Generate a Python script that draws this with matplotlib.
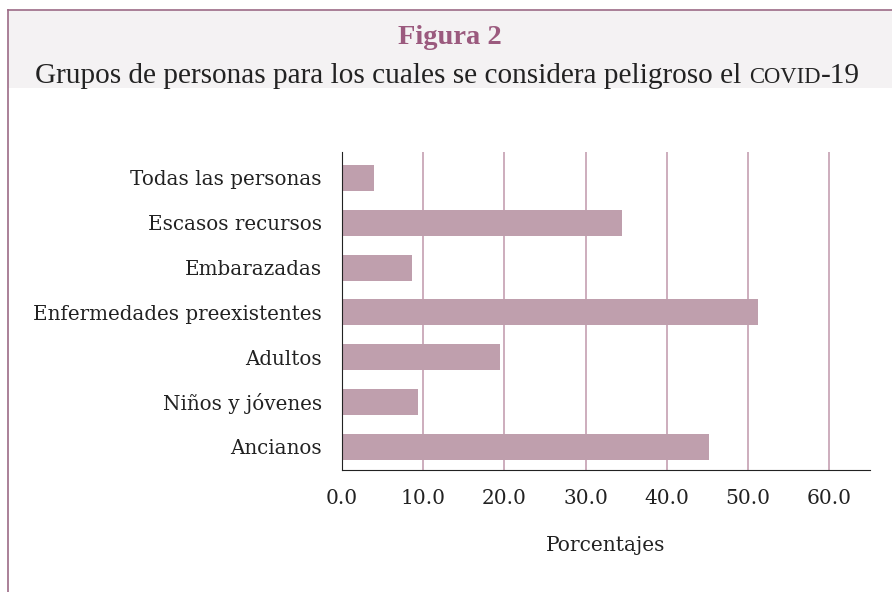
import matplotlib.pyplot as plt
from matplotlib.patches import Rectangle
from matplotlib.lines import Line2D

grupos = ["Ancianos", "Niños y jóvenes", "Adultos", "Enfermedades preexistentes",
          "Embarazadas", "Escasos recursos", "Todas las personas"]
porcentajes = [45.2, 9.4, 19.4, 51.2, 8.6, 34.5, 4.0]
ticks = [0, 10, 20, 30, 40, 50, 60]

BAR = "#bf9fad"
GRID = "#c9a7b8"
TITLE = "#9b5a7e"
HEAD_FONT = "Liberation Serif"
FONT = "DejaVu Serif"

fig = plt.figure(figsize=(8.92, 5.92), dpi=100)

# header band and frame
fig.patches.append(Rectangle((8 / 892, 1 - 88 / 592), 1, 78 / 592, transform=fig.transFigure,
                             facecolor="#f4f2f3", edgecolor="none", zorder=0))
fig.add_artist(Line2D([8 / 892, 1], [1 - 10 / 592] * 2, color="#9c6b86", lw=1.2))
fig.add_artist(Line2D([8 / 892] * 2, [0, 1 - 10 / 592], color="#9c6b86", lw=1.2))

fig.text(0.504, 1 - 37 / 592, "Figura 2", ha="center", va="center", fontsize=20.5,
         fontweight="bold", color=TITLE, family=HEAD_FONT)

# subtitle with "covid" in small caps: three pieces laid side by side
renderer = fig.canvas.get_renderer()
pieces = [("Grupos de personas para los cuales se considera peligroso el ", 21.1),
          ("COVID", 16.3), ("-19", 21.1)]
texts = []
x = 0.0
for s, size in pieces:
    t = fig.text(x, 1 - 83 / 592, s, ha="left", va="baseline", fontsize=size,
                 color="#222222", family=HEAD_FONT)
    w = t.get_window_extent(renderer).width / fig.bbox.width
    texts.append((t, x))
    x += w
start = (33 + 862) / 2 / 892 - x / 2
for t, x0 in texts:
    t.set_x(start + x0)

ax = fig.add_axes([342 / 892, 1 - 470 / 592, 528 / 892, 318 / 592])
ax.barh(range(len(grupos)), porcentajes, height=0.58, color=BAR, zorder=2)
ax.set_xlim(0, 65)
ax.set_ylim(-0.52, 6.58)
ax.set_xticks(ticks)
ax.set_xticklabels([f"{t:.1f}" for t in ticks])
ax.set_yticks(range(len(grupos)))
ax.set_yticklabels(grupos)
ax.grid(axis="x", color=GRID, lw=1.3, zorder=1)
for s in ["top", "right"]:
    ax.spines[s].set_visible(False)
ax.spines["left"].set_color("#222222")
ax.spines["bottom"].set_color("#222222")
ax.tick_params(axis="y", length=0, labelsize=14.3, colors="#222222", pad=14.5)
ax.tick_params(axis="x", length=0, labelsize=14.5, colors="#222222", pad=14)
for lab in ax.get_xticklabels() + ax.get_yticklabels():
    lab.set_family(FONT)
ax.set_xlabel("Porcentajes", fontsize=14.5, family=FONT, color="#222222", labelpad=20)

fig.savefig("out.png", dpi=100)
